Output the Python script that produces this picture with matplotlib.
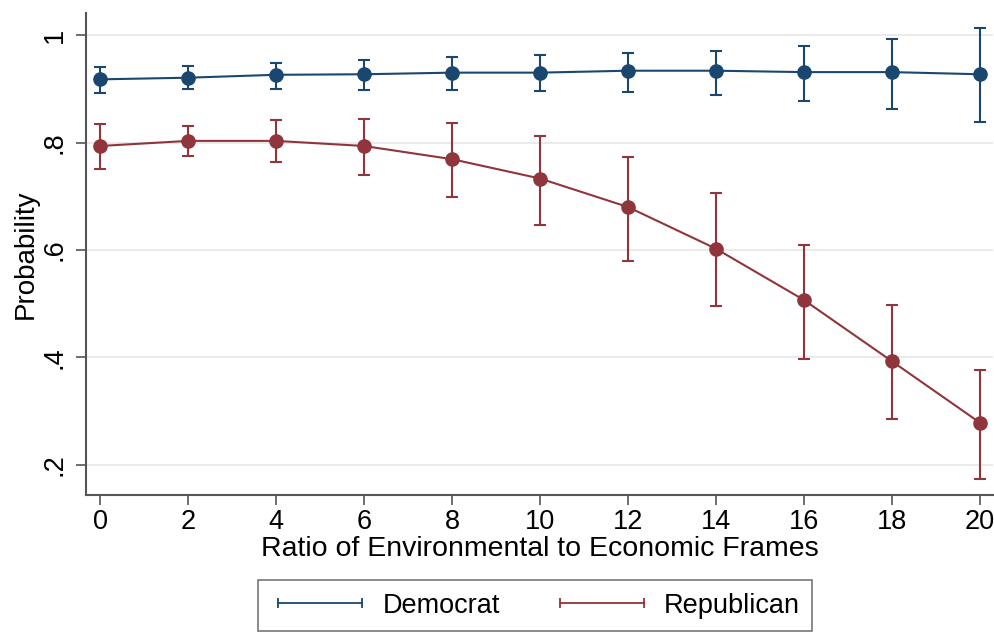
import matplotlib
matplotlib.use("Agg")
import matplotlib.pyplot as plt
from matplotlib.lines import Line2D

plt.rcParams['font.family'] = ['Liberation Sans', 'DejaVu Sans']

ratio = [0, 2, 4, 6, 8, 10, 12, 14, 16, 18, 20]

dem_est = [0.9175, 0.9206, 0.926, 0.927, 0.930, 0.930, 0.9336, 0.9336, 0.931, 0.931, 0.927]
dem_lo  = [0.8915, 0.899, 0.899, 0.898, 0.898, 0.896, 0.894, 0.888, 0.878, 0.862, 0.838]
dem_hi  = [0.941, 0.942, 0.9485, 0.953, 0.9585, 0.962, 0.966, 0.971, 0.9795, 0.993, 1.013]

rep_est = [0.7935, 0.803, 0.803, 0.7935, 0.769, 0.733, 0.680, 0.6024, 0.507, 0.393, 0.2787]
rep_lo  = [0.750, 0.774, 0.764, 0.739, 0.699, 0.647, 0.580, 0.4958, 0.3966, 0.286, 0.1734]
rep_hi  = [0.834, 0.831, 0.841, 0.844, 0.836, 0.813, 0.7725, 0.7055, 0.610, 0.497, 0.3767]

y_ticks = [0.2, 0.4, 0.6, 0.8, 1.0]
y_tick_labels = ['.2', '.4', '.6', '.8', '1']
x_ticks = ratio

DEM = '#1a476f'
REP = '#90353b'

fig = plt.figure(figsize=(9.94, 6.33), dpi=100)
ax = fig.add_axes([86/994, 1-495/633, (993-86)/994, (495-13)/633])

for est, lo, hi, col in [(dem_est, dem_lo, dem_hi, DEM), (rep_est, rep_lo, rep_hi, REP)]:
    yerr = [[e - l for e, l in zip(est, lo)], [h - e for e, h in zip(est, hi)]]
    ax.errorbar(ratio, est, yerr=yerr, fmt='none', ecolor=col, elinewidth=1.5,
                capsize=4, capthick=1.5, zorder=2)
    ax.plot(ratio, est, color=col, lw=1.5, marker='o', markersize=9.5, zorder=3)

ax.set_xlim(-0.32, 20.3)
ax.set_ylim(0.144, 1.041)
ax.set_yticks(y_ticks)
ax.set_yticklabels(y_tick_labels, rotation=90, va='center')
ax.set_xticks(x_ticks)
ax.tick_params(axis='both', labelsize=19.5, length=7, width=1.2, color='#555555', direction='out')
ax.tick_params(axis='y', pad=6)
ax.tick_params(axis='x', pad=3)
ax.yaxis.grid(True, color='#eaeaea', lw=1.5)
ax.set_axisbelow(True)
for s in ['top', 'right']:
    ax.spines[s].set_visible(False)
for s in ['left', 'bottom']:
    ax.spines[s].set_color('#555555')
    ax.spines[s].set_linewidth(1.5)

ax.set_xlabel('Ratio of Environmental to Economic Frames', fontsize=20.5, labelpad=1)
ax.set_ylabel('Probability', fontsize=20, labelpad=2)

handles = [Line2D([0], [0], color=DEM, lw=1.3, marker='|', markersize=7, markeredgewidth=1.3),
           Line2D([0], [0], color=REP, lw=1.3, marker='|', markersize=7, markeredgewidth=1.3)]
leg = fig.legend(handles, ['Democrat', 'Republican'], loc='lower center',
                 bbox_to_anchor=(535/994, -0.018), ncol=2, fontsize=19.5, numpoints=2,
                 frameon=True, fancybox=False, edgecolor='#555555', handlelength=3.7,
                 columnspacing=1.9, borderpad=0.45, handletextpad=0.45)
leg.get_frame().set_linewidth(1.2)

fig.savefig('out.png', dpi=100, facecolor='white')
